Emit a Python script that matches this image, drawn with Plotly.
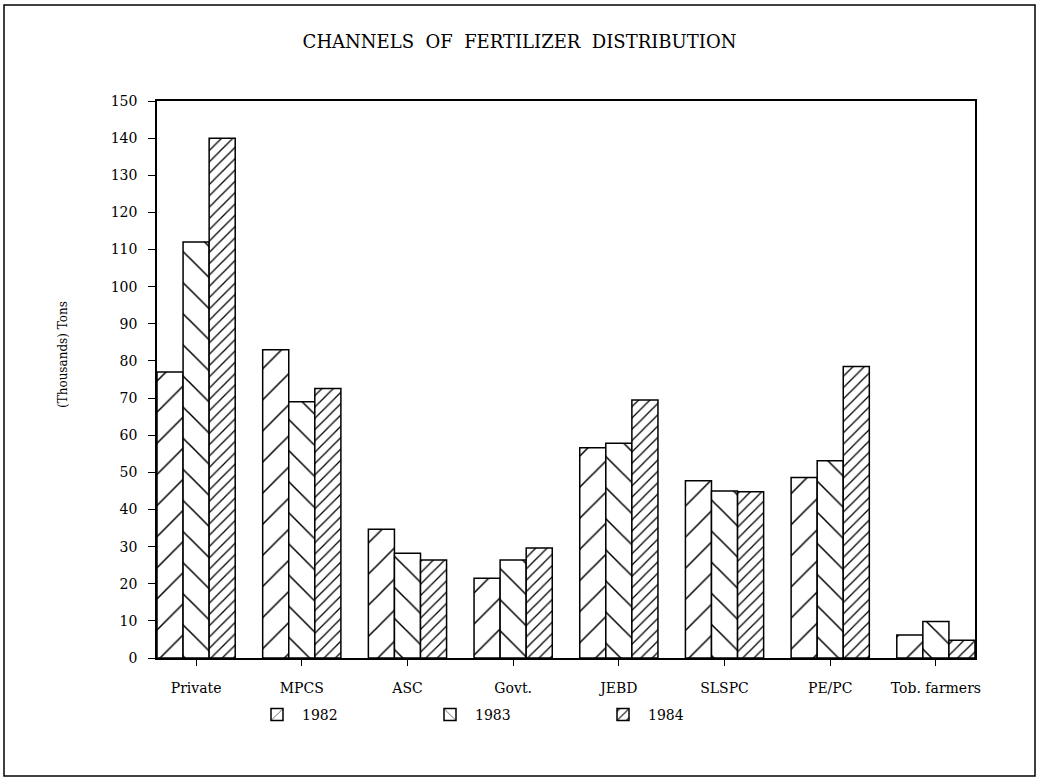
import plotly.graph_objects as go

categories = ["Private", "MPCS", "ASC", "Govt.", "JEBD", "SLSPC", "PE/PC", "Tob. farmers"]
years = ["1982", "1983", "1984"]
v1982 = [77, 83, 34.7, 21.5, 56.6, 47.7, 48.6, 6.2]
v1983 = [112, 69, 28.2, 26.4, 57.8, 45, 53.1, 9.8]
v1984 = [140, 72.6, 26.4, 29.6, 69.5, 44.8, 78.5, 4.8]
yticks = list(range(0, 151, 10))

series = [v1982, v1983, v1984]
patterns = [("/", 22, 0.07), ("\\", 22, 0.07), ("/", 8, 0.16)]

FONT = "DejaVu Serif"
L, R, T, B = 157, 975, 101, 658
W, H = 1039, 780

fig = go.Figure()
for name, vals, (shape, size, sol) in zip(years, series, patterns):
    fig.add_trace(go.Bar(
        x=categories, y=vals, name=name,
        marker=dict(color="white", line=dict(color="black", width=1.5),
                    pattern=dict(shape=shape, size=size, solidity=sol,
                                 fgcolor="black", fgopacity=1, bgcolor="white",
                                 fillmode="overlay")),
    ))

pw, ph = R - L, B - T
def px(x):
    return (x - L) / pw
def py(y):
    return (B - y) / ph

fig.update_layout(
    width=W, height=H,
    margin=dict(l=L, r=W - R, t=T, b=H - B, autoexpand=False),
    paper_bgcolor="white", plot_bgcolor="white",
    barmode="group", bargap=0.26, bargroupgap=0,
    font=dict(family=FONT, color="black", size=13),
    title=dict(text="CHANNELS  OF  FERTILIZER  DISTRIBUTION", x=0.5, xanchor="center",
               y=1 - 42 / H, yanchor="middle", font=dict(family=FONT, size=18, color="black")),
    xaxis=dict(range=[-0.37, 7.37], showline=True, linecolor="black", linewidth=1.5,
               mirror=True, ticks="outside", ticklen=6, tickcolor="black",
               tickfont=dict(family=FONT, size=14), showgrid=False, ticklabelstandoff=10),
    yaxis=dict(range=[0, 150], tickvals=yticks, showline=True, linecolor="black",
               linewidth=1.5, mirror=True, ticks="outside", ticklen=7, tickcolor="black",
               tickfont=dict(family=FONT, size=14), showgrid=False, zeroline=False,
               ticklabelstandoff=8),
    legend=dict(orientation="h", x=px(252), xanchor="left", y=py(715), yanchor="middle",
                entrywidth=118, entrywidthmode="pixels", itemwidth=40,
                font=dict(family=FONT, size=14), bgcolor="rgba(0,0,0,0)"),
    showlegend=True,
)

fig.add_annotation(text="(Thousands) Tons", xref="paper", yref="paper",
                   x=px(63), y=py(355), xanchor="center", yanchor="middle",
                   textangle=-90, showarrow=False, font=dict(family=FONT, size=12))

fig.add_shape(type="rect", xref="paper", yref="paper",
              x0=px(4), x1=px(1035), y0=py(776), y1=py(5),
              line=dict(color="black", width=1.5), fillcolor="rgba(0,0,0,0)", layer="below")

fig.write_html("out.html", config={"displayModeBar": False},
               post_script="document.body.style.margin='0';document.body.style.overflow='hidden';")
